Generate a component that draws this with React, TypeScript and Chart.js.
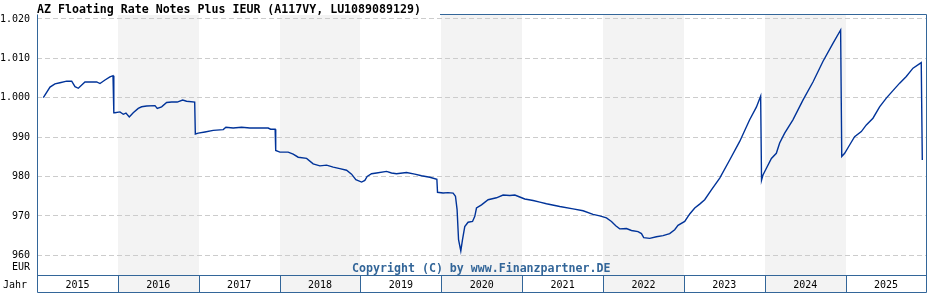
import React, { useEffect, useRef } from "react";
import { Chart, registerables } from "chart.js";

Chart.register(...registerables);

const TITLE = "AZ Floating Rate Notes Plus IEUR (A117VY, LU1089089129)";
const COPYRIGHT = "Copyright (C) by www.Finanzpartner.DE";
const UNIT = "EUR";
const AXIS_NAME = "Jahr";

const YEARS = [2015, 2016, 2017, 2018, 2019, 2020, 2021, 2022, 2023, 2024, 2025];
const Y_TICKS = [960, 970, 980, 990, 1000, 1010, 1020];

// fractional year
const DATES = [
  2015.078, 2015.161, 2015.222, 2015.284, 2015.367, 2015.429, 2015.47, 2015.511, 2015.593, 2015.738,
  2015.779, 2015.841, 2015.902, 2015.94, 2015.95, 2015.964, 2016.026, 2016.067, 2016.1, 2016.141,
  2016.19, 2016.252, 2016.294, 2016.356, 2016.459, 2016.487, 2016.541, 2016.603, 2016.665, 2016.734,
  2016.801, 2016.85, 2016.95, 2016.958, 2016.994, 2017.077, 2017.179, 2017.303, 2017.336, 2017.426,
  2017.53, 2017.633, 2017.859, 2017.889, 2017.945, 2017.952, 2018.004, 2018.106, 2018.168, 2018.23,
  2018.334, 2018.415, 2018.498, 2018.581, 2018.663, 2018.745, 2018.828, 2018.89, 2018.943, 2019.014,
  2019.054, 2019.083, 2019.137, 2019.199, 2019.323, 2019.384, 2019.446, 2019.57, 2019.672, 2019.755,
  2019.858, 2019.945, 2019.953, 2020.022, 2020.084, 2020.146, 2020.175, 2020.195, 2020.213, 2020.241,
  2020.262, 2020.29, 2020.331, 2020.386, 2020.414, 2020.435, 2020.497, 2020.579, 2020.682, 2020.764,
  2020.847, 2020.909, 2020.97, 2021.032, 2021.135, 2021.218, 2021.3, 2021.465, 2021.629, 2021.753,
  2021.876, 2021.959, 2022.042, 2022.104, 2022.157, 2022.206, 2022.289, 2022.351, 2022.433, 2022.475,
  2022.503, 2022.577, 2022.66, 2022.742, 2022.824, 2022.886, 2022.927, 2023.01, 2023.072, 2023.134,
  2023.195, 2023.257, 2023.34, 2023.443, 2023.566, 2023.69, 2023.813, 2023.896, 2023.949, 2023.96,
  2023.978, 2024.02, 2024.082, 2024.143, 2024.184, 2024.246, 2024.348, 2024.472, 2024.596, 2024.719,
  2024.843, 2024.938, 2024.952, 2024.988, 2025.049, 2025.111, 2025.194, 2025.256, 2025.338, 2025.42,
  2025.503, 2025.585, 2025.668, 2025.75, 2025.833, 2025.935, 2025.948,
];

const PRICES = [
  1000.0, 1002.7, 1003.5, 1003.8, 1004.2, 1004.2, 1002.8, 1002.4, 1004.0, 1004.0,
  1003.6, 1004.5, 1005.3, 1005.6, 996.2, 996.2, 996.4, 995.8, 996.1, 995.1,
  996.2, 997.3, 997.7, 997.9, 998.0, 997.3, 997.7, 998.8, 998.9, 998.9,
  999.4, 999.1, 998.9, 990.8, 991.0, 991.3, 991.7, 991.9, 992.5, 992.3,
  992.5, 992.3, 992.3, 992.0, 992.0, 986.6, 986.2, 986.2, 985.7, 984.9,
  984.6, 983.2, 982.7, 982.9, 982.4, 982.0, 981.6, 980.6, 979.2, 978.6,
  979.0, 980.0, 980.7, 980.9, 981.3, 980.9, 980.7, 981.0, 980.6, 980.2,
  979.8, 979.3, 976.0, 975.8, 975.9, 975.8, 975.0, 971.6, 964.0, 961.1,
  964.0, 967.3, 968.4, 968.6, 969.9, 972.0, 972.8, 974.1, 974.6, 975.3,
  975.2, 975.3, 974.8, 974.3, 973.9, 973.5, 973.1, 972.4, 971.8, 971.3,
  970.4, 970.0, 969.5, 968.6, 967.5, 966.7, 966.8, 966.3, 966.0, 965.5,
  964.5, 964.3, 964.7, 965.0, 965.5, 966.5, 967.6, 968.6, 970.5, 972.0,
  973.0, 974.1, 976.6, 979.6, 984.2, 988.9, 994.4, 997.6, 1000.4, 979.1,
  980.4, 982.1, 984.6, 985.9, 988.5, 991.0, 994.4, 999.4, 1004.0, 1009.2,
  1013.8, 1017.2, 985.1, 985.9, 988.0, 990.1, 991.4, 993.1, 994.8, 997.7,
  999.9, 1001.8, 1003.7, 1005.4, 1007.5, 1008.9, 984.2,
];

const BORDER = "#336699";
const LINE = "#003399";
const BAND = "#f3f3f3";
const GRID = "#cccccc";
const MONO = '"DejaVu Sans Mono", monospace';

const fmt = (v: number) =>
  v >= 1000 ? `${Math.floor(v / 1000)}.${String(v % 1000).padStart(3, "0")}` : String(v);

const decor = {
  id: "decor",
  beforeDraw(chart: any) {
    const { ctx, chartArea: a, scales } = chart;
    const x = scales.x;
    ctx.save();
    ctx.fillStyle = "#ffffff";
    ctx.fillRect(0, 0, chart.width, chart.height);
    YEARS.forEach((yr, i) => {
      if (i % 2 === 1) {
        const x1 = Math.round(x.getPixelForValue(yr));
        const x2 = Math.round(x.getPixelForValue(yr + 1));
        ctx.fillStyle = BAND;
        ctx.fillRect(x1, Math.round(a.top), x2 - x1, Math.round(a.bottom) - Math.round(a.top) + 17);
      }
    });
    ctx.restore();
  },
  afterDraw(chart: any) {
    const { ctx, chartArea: a, scales } = chart;
    const x = scales.x;
    const top = Math.round(a.top) - 0.5;
    const bot = Math.round(a.bottom) + 0.5;
    const boxBot = bot + 17;
    const left = Math.floor(a.left) + 0.5;
    const right = Math.floor(a.right) + 0.5;
    ctx.save();
    // title
    ctx.fillStyle = "#000000";
    ctx.font = `bold 11.6px ${MONO}`;
    ctx.textAlign = "left";
    ctx.textBaseline = "alphabetic";
    ctx.fillText(TITLE, a.left, 12.5);
    // copyright
    ctx.fillStyle = BORDER;
    ctx.textAlign = "center";
    ctx.fillText(COPYRIGHT, (a.left + a.right) / 2 - 0.5, a.bottom - 3.5);
    // borders
    ctx.strokeStyle = BORDER;
    ctx.lineWidth = 1;
    ctx.beginPath();
    ctx.moveTo(left, top);
    ctx.lineTo(left, boxBot);
    ctx.moveTo(right, top);
    ctx.lineTo(right, boxBot);
    ctx.moveTo(440, top);
    ctx.lineTo(right, top);
    ctx.moveTo(left, bot);
    ctx.lineTo(right, bot);
    ctx.moveTo(left, boxBot);
    ctx.lineTo(right, boxBot);
    YEARS.forEach((yr, i) => {
      if (i > 0) {
        const xp = Math.round(x.getPixelForValue(yr)) + 0.5;
        ctx.moveTo(xp, bot);
        ctx.lineTo(xp, boxBot);
      }
    });
    ctx.stroke();
    // year labels
    ctx.fillStyle = "#000000";
    ctx.font = `10px ${MONO}`;
    ctx.textAlign = "center";
    YEARS.forEach((yr) => {
      const cx = (x.getPixelForValue(yr) + x.getPixelForValue(yr + 1)) / 2;
      ctx.fillText(String(yr), cx, a.bottom + 13);
    });
    ctx.textAlign = "right";
    ctx.fillText(AXIS_NAME, 27, a.bottom + 13);
    ctx.fillText(UNIT, 30, a.bottom - 5);
    ctx.restore();
  },
};

export default function App() {
  const ref = useRef<HTMLCanvasElement | null>(null);
  useEffect(() => {
    if (!ref.current) return;
    const chart = new Chart(ref.current, {
      type: "line",
      data: {
        datasets: [
          {
            data: DATES.map((d, i) => ({ x: d, y: PRICES[i] })),
            borderColor: LINE,
            borderWidth: 1.4,
            pointRadius: 0,
            tension: 0,
            fill: false,
          },
        ],
      },
      options: {
        responsive: false,
        animation: false,
        devicePixelRatio: 1,
        layout: { padding: { left: 0, right: 1.5, top: 15, bottom: 25 } },
        plugins: { legend: { display: false }, tooltip: { enabled: false }, title: { display: false } },
        scales: {
          x: { type: "linear", min: 2015, max: 2026, display: false },
          y: {
            type: "linear",
            position: "left",
            min: 955,
            max: 1021,
            afterBuildTicks: (s: any) => {
              s.ticks = Y_TICKS.map((v) => ({ value: v }));
            },
            afterFit: (s: any) => {
              s.width = 37;
            },
            grid: { color: GRID, lineWidth: 1, drawTicks: false },
            border: { display: false, dash: [5, 3] },
            ticks: {
              padding: 7,
              color: "#000000",
              font: { family: "DejaVu Sans Mono", size: 10 },
              callback: (v: any) => fmt(Number(v)),
            },
          },
        },
      },
      plugins: [decor],
    });
    return () => chart.destroy();
  }, []);
  return (
    <div style={{ position: "absolute", left: 0, top: 0, width: 928, height: 300 }}>
      <canvas ref={ref} width={928} height={300} style={{ display: "block" }} />
    </div>
  );
}
